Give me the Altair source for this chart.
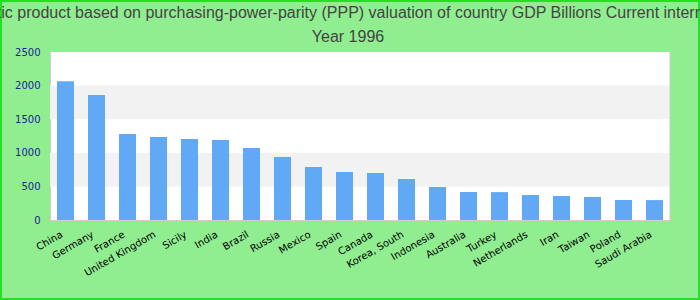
import altair as alt
import pandas as pd

countries = ["China", "Germany", "France", "United Kingdom", "Sicily", "India", "Brazil",
             "Russia", "Mexico", "Spain", "Canada", "Korea, South", "Indonesia", "Australia",
             "Turkey", "Netherlands", "Iran", "Taiwan", "Poland", "Saudi Arabia"]
gdp = [2065, 1860, 1280, 1235, 1205, 1190, 1071, 937, 789, 714, 699, 610, 491, 417,
       415, 372, 357, 342, 298, 296]
band_start = [500, 1500]
band_end = [1000, 2000]
y_ticks = [0, 500, 1000, 1500, 2000, 2500]
title_lines = ["Gross domestic product based on purchasing-power-parity (PPP) valuation of country GDP Billions Current international dollar",
               "Year 1996"]

W, H = 620, 168

df = pd.DataFrame({"country": countries, "gdp": gdp})
bands = pd.DataFrame({"y": band_start, "y2": band_end})
one = pd.DataFrame({"k": [0]})

yscale = alt.Scale(domain=[0, 2500], nice=False)
yaxis = alt.Axis(title=None, values=y_ticks, format="d", grid=False, ticks=False,
                 domainColor="#cccccc", labelColor="#20209a",
                 labelFont="DejaVu Sans", labelFontSize=10, labelPadding=10)

band_layer = alt.Chart(bands).mark_rect(color="#f2f2f2").encode(
    x=alt.value(0), x2=alt.value(W),
    y=alt.Y("y:Q", scale=yscale, axis=yaxis),
    y2="y2:Q",
)

bars = alt.Chart(df).mark_bar(color="#62a9f5").encode(
    x=alt.X("country:N", sort=countries,
            scale=alt.Scale(paddingInner=0.45, paddingOuter=0.225),
            axis=alt.Axis(title=None, labelAngle=-30, labelAlign="right", labelBaseline="top",
                          ticks=False, domainColor="#cccccc", labelColor="#000000",
                          labelFont="DejaVu Sans", labelFontSize=10, labelPadding=9,
                          labelOffset=-6)),
    y=alt.Y("gdp:Q", scale=yscale, axis=yaxis),
)

right_edge = alt.Chart(one).mark_rule(color="#cccccc").encode(
    x=alt.value(W), y=alt.value(0), y2=alt.value(H)
)

outer = alt.Chart(one).mark_rect(fill=None, stroke="#22e022", strokeWidth=2, clip=False).encode(
    x=alt.value(-49), x2=alt.value(649), y=alt.value(-51), y2=alt.value(247)
)

chart = alt.layer(band_layer, bars, right_edge, outer).properties(
    width=W, height=H,
    background="#90EE90",
    autosize=alt.AutoSizeParams(type="none"),
    padding={"left": 50, "top": 52, "right": 30, "bottom": 80},
    title=alt.TitleParams(text=title_lines, fontSize=16, font="Liberation Sans",
                          fontWeight="normal", color="#444444", anchor="middle",
                          frame="group", dx=-12, dy=55, lineHeight=24, offset=10),
).configure_view(stroke=None, fill="white")

chart.save("out.html", embed_options={"renderer": "svg", "actions": False})
